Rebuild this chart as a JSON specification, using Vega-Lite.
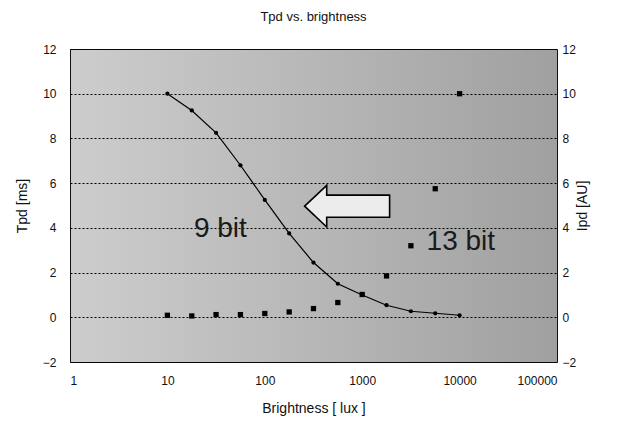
{
  "$schema": "https://vega.github.io/schema/vega-lite/v6.json",
  "width": 487,
  "height": 313,
  "autosize": {"type": "none"},
  "padding": {"left": 70, "top": 49, "right": 62, "bottom": 63},
  "background": "white",
  "title": {"text": "Tpd vs. brightness", "font": "Liberation Sans", "fontSize": 13, "fontWeight": "normal", "color": "#111111", "anchor": "middle", "offset": 19},
  "config": {
    "view": {"stroke": "#111111", "strokeWidth": 1, "fill": {"gradient": "linear", "x1": 0, "x2": 1, "y1": 0, "y2": 0, "stops": [{"offset": 0, "color": "#cdcdcd"}, {"offset": 0.5, "color": "#b7b7b7"}, {"offset": 1, "color": "#a0a0a0"}]}},
    "axis": {"labelFont": "Liberation Sans", "titleFont": "Liberation Sans", "labelColor": "#111111", "titleColor": "#111111", "labelFontSize": 12, "titleFontSize": 14, "titleFontWeight": "normal", "ticks": false, "domain": false}
  },
  "datasets": {
    "nine": [
      {"lux": 10, "tpd": 10.0},
      {"lux": 17.8, "tpd": 9.25},
      {"lux": 31.6, "tpd": 8.25},
      {"lux": 56.2, "tpd": 6.8},
      {"lux": 100, "tpd": 5.25},
      {"lux": 178, "tpd": 3.75},
      {"lux": 316, "tpd": 2.45},
      {"lux": 562, "tpd": 1.5},
      {"lux": 1000, "tpd": 1.0},
      {"lux": 1778, "tpd": 0.54},
      {"lux": 3162, "tpd": 0.27},
      {"lux": 5623, "tpd": 0.18},
      {"lux": 10000, "tpd": 0.09}
    ],
    "thirteen": [
      {"lux": 10, "ipd": 0.09},
      {"lux": 17.8, "ipd": 0.06},
      {"lux": 31.6, "ipd": 0.12},
      {"lux": 56.2, "ipd": 0.12},
      {"lux": 100, "ipd": 0.17},
      {"lux": 178, "ipd": 0.24},
      {"lux": 316, "ipd": 0.39},
      {"lux": 562, "ipd": 0.66},
      {"lux": 1000, "ipd": 1.02},
      {"lux": 1778, "ipd": 1.85},
      {"lux": 3162, "ipd": 3.2},
      {"lux": 5623, "ipd": 5.75},
      {"lux": 10000, "ipd": 10.0}
    ],
    "labels": [
      {"label": "9 bit", "lux": 35, "val": 3.93},
      {"label": "13 bit", "lux": 10300, "val": 3.35}
    ],
    "arrow": [
      {"lux": 700, "val": 4.97}
    ]
  },
  "layer": [
    {
      "data": {"name": "nine"},
      "mark": {"type": "line", "color": "#000000", "strokeWidth": 1.2, "point": {"filled": true, "size": 18, "color": "#000000"}},
      "encoding": {
        "x": {"field": "lux", "type": "quantitative", "scale": {"type": "log", "domain": [1, 100000], "nice": false},
              "axis": {"values": [1, 10, 100, 1000, 10000, 100000], "format": "d", "grid": false, "labelPadding": 13, "title": "Brightness [ lux ]", "titlePadding": 15}},
        "y": {"field": "tpd", "type": "quantitative", "scale": {"domain": [-2, 12], "nice": false, "zero": false},
              "axis": {"orient": "left", "values": [-2, 0, 2, 4, 6, 8, 10, 12], "grid": true, "gridColor": "#000000", "gridDash": [2, 2], "gridWidth": 1.2, "gridOpacity": 1, "labelPadding": 14, "title": "Tpd [ms]", "titlePadding": 13}}
      }
    },
    {
      "data": {"name": "thirteen"},
      "mark": {"type": "point", "shape": "square", "filled": true, "size": 28, "color": "#000000", "opacity": 1},
      "encoding": {
        "x": {"field": "lux", "type": "quantitative", "scale": {"type": "log", "domain": [1, 100000], "nice": false}},
        "y": {"field": "ipd", "type": "quantitative", "scale": {"domain": [-2, 12], "nice": false, "zero": false},
              "axis": {"orient": "right", "values": [-2, 0, 2, 4, 6, 8, 10, 12], "grid": false, "labelPadding": 5, "title": "Ipd [AU]", "titleAngle": 270, "titlePadding": 14}}
      }
    },
    {
      "data": {"name": "arrow"},
      "mark": {"type": "point", "shape": "M -1 0 L -0.48 -0.49 L -0.48 -0.26 L 1 -0.26 L 1 0.26 L -0.48 0.26 L -0.48 0.49 Z", "size": 7225, "filled": true, "fill": "#ececec", "stroke": "#000000", "strokeWidth": 1.6, "opacity": 1, "fillOpacity": 1},
      "encoding": {
        "x": {"field": "lux", "type": "quantitative", "scale": {"type": "log", "domain": [1, 100000], "nice": false}},
        "y": {"field": "val", "type": "quantitative", "scale": {"domain": [-2, 12], "nice": false, "zero": false}, "axis": null}
      }
    },
    {
      "data": {"name": "labels"},
      "mark": {"type": "text", "font": "Liberation Sans", "fontSize": 28, "color": "#1a1a1a", "align": "center", "baseline": "middle"},
      "encoding": {
        "x": {"field": "lux", "type": "quantitative", "scale": {"type": "log", "domain": [1, 100000], "nice": false}},
        "y": {"field": "val", "type": "quantitative", "scale": {"domain": [-2, 12], "nice": false, "zero": false}, "axis": null},
        "text": {"field": "label", "type": "nominal"}
      }
    }
  ],
  "resolve": {"scale": {"y": "independent"}}
}
